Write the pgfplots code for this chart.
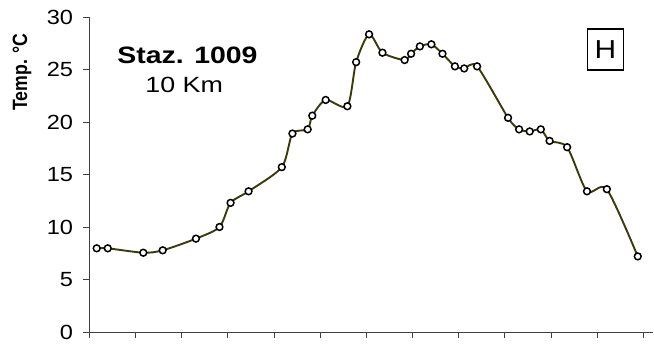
\documentclass[border=0pt]{standalone}
\usepackage{pgfplots}
\pgfplotsset{compat=1.18}
\usepackage{fontspec}
\setmainfont{Liberation Sans}
\usepackage{graphicx}
\definecolor{lineol}{RGB}{58,58,10}
\begin{document}
\begin{tikzpicture}[x=1pt,y=1pt]
\begin{axis}[
  at={(0,0)}, anchor=south west,
  scale only axis,
  width=563.7pt, height=315pt,
  xmin=0, xmax=12.21, ymin=0, ymax=30,
  axis lines=left,
  axis line style={-, line width=0.9pt, black!75},
  tick align=outside,
  major tick length=6pt,
  tick style={line width=0.9pt, black!75},
  xtick={0,1,...,12},
  xticklabels={},
  ytick={0,5,...,30},
  yticklabel={\pgfmathparse{int(\tick)}\scalebox{1.15}[1]{\fontsize{20.5}{21}\selectfont\pgfmathresult}},
  yticklabel style={inner sep=0pt, xshift=-10pt},
  clip=false,
]
\addplot[color=lineol, line width=1.9pt, smooth, tension=0.45,
  mark=*, mark size=3.4pt,
  mark options={fill=white, draw=black, line width=1.5pt}]
coordinates {
(0.16,7.97) (0.40,7.97) (1.17,7.55) (1.59,7.78) (2.31,8.89) (2.82,10.0)
(3.06,12.3) (3.45,13.4) (4.17,15.7) (4.40,18.9) (4.73,19.3) (4.83,20.6)
(5.12,22.1) (5.59,21.5) (5.78,25.7) (6.06,28.35) (6.35,26.6) (6.83,25.9)
(6.97,26.5) (7.16,27.2) (7.41,27.4) (7.65,26.5) (7.92,25.3) (8.12,25.1)
(8.40,25.3) (9.07,20.4) (9.31,19.3) (9.54,19.1) (9.78,19.3) (9.97,18.2)
(10.35,17.6) (10.78,13.4) (11.21,13.6) (11.88,7.2)
};
\end{axis}
\node[rotate=90] at (-67.3,260) {\scalebox{1}[1.17]{\fontsize{17.7}{18}\selectfont\bfseries Temp. °C}};
\node at (98.2,277) {\scalebox{1.2}[1]{\fontsize{23.7}{24}\selectfont\bfseries Staz. 1009}};
\node at (94.9,247.5) {\scalebox{1.22}[1]{\fontsize{22}{22}\selectfont 10 Km}};
\node[draw, line width=1.5pt, minimum width=36pt, minimum height=41pt, inner sep=0pt] at (516,282.5) {\scalebox{1.15}[1]{\fontsize{26}{26}\selectfont H}};
\pgfresetboundingbox
\path[use as bounding box] (-89.3,-15) rectangle (564.7,332);
\end{tikzpicture}
\end{document}
